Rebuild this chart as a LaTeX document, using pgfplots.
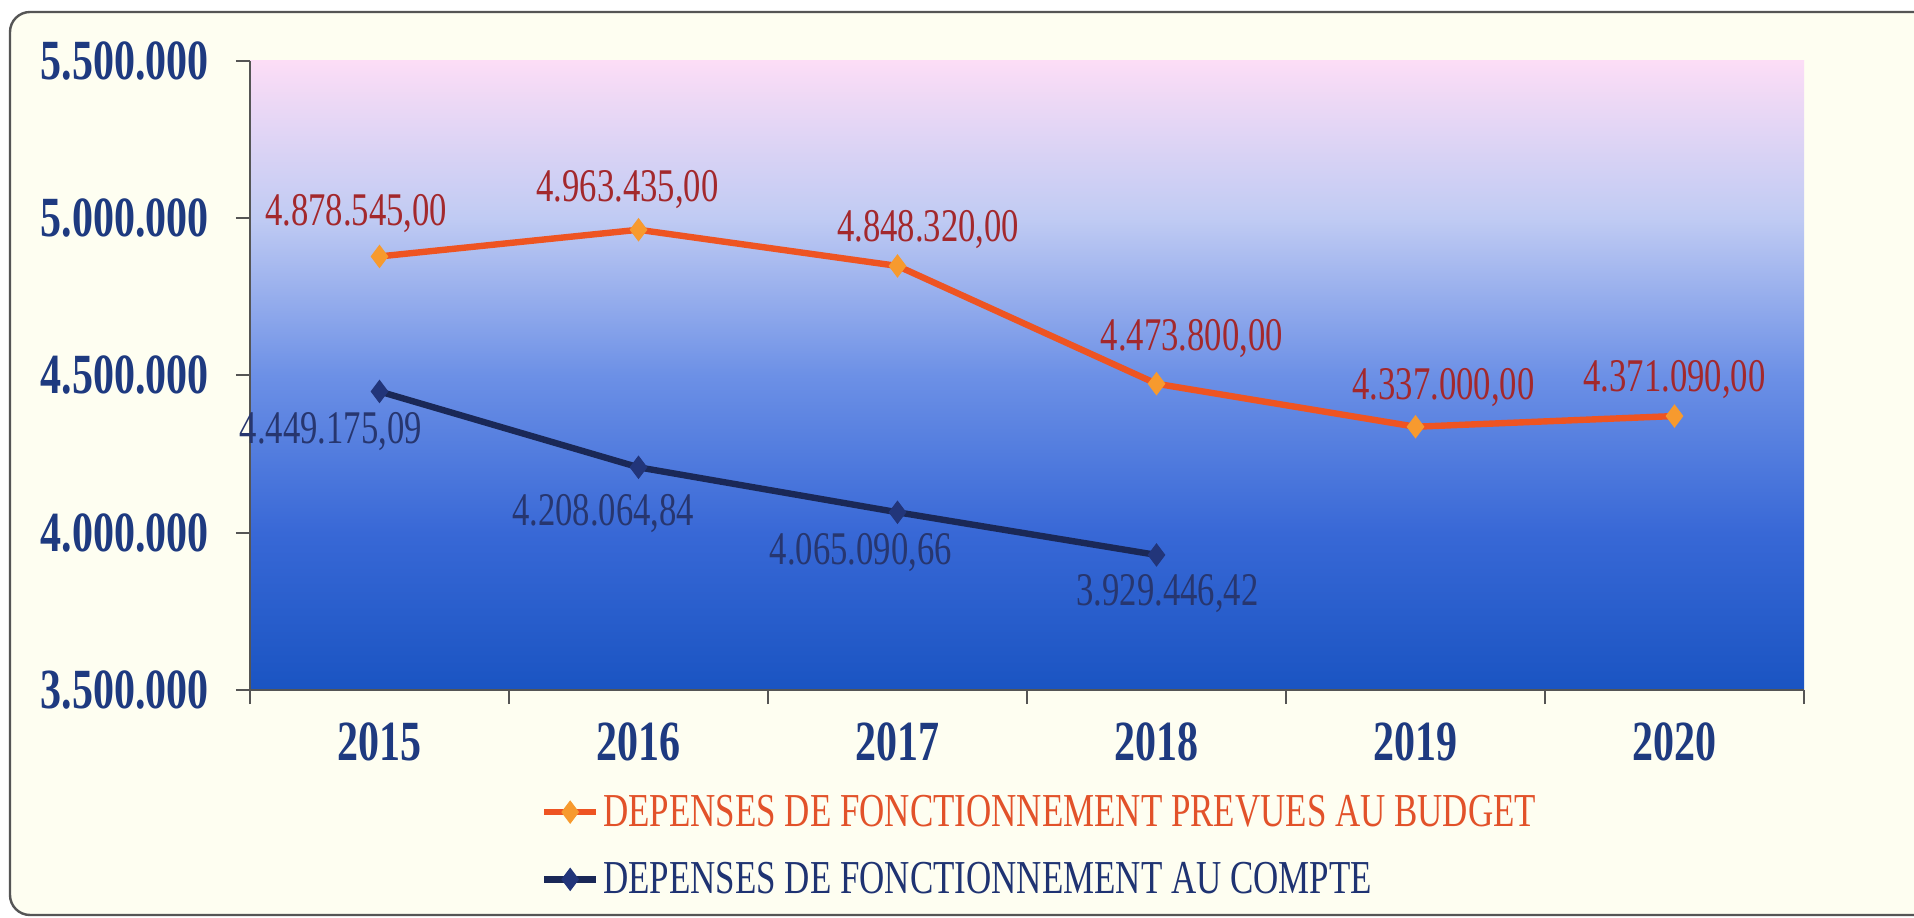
\documentclass[border=0pt]{standalone}
\usepackage{fontspec}
\setmainfont{Liberation Serif}[FakeStretch=0.74]
\usepackage{pgfplots}
\pgfplotsset{compat=1.18}
\usepackage{pgfplotstable}

\definecolor{cream}{HTML}{FEFEF1}
\definecolor{framegray}{HTML}{555555}
\definecolor{tickblue}{HTML}{1E3A80}
\definecolor{budgetlab}{HTML}{A3282C}
\definecolor{budgetline}{HTML}{EE5422}
\definecolor{budgetmark}{HTML}{F79A2E}
\definecolor{compteline}{HTML}{1A2857}
\definecolor{comptemark}{HTML}{22357A}
\definecolor{comptelab}{HTML}{27366F}
\definecolor{legone}{HTML}{E2522A}
\definecolor{legtwo}{HTML}{1F3372}
\definecolor{cA}{HTML}{1A54C2}
\definecolor{cB}{HTML}{3868D6}
\definecolor{cC}{HTML}{6C90E6}
\definecolor{cD}{HTML}{C0CBF3}
\definecolor{cE}{HTML}{FCDDF6}
\pgfdeclareverticalshading{plotbg}{100bp}{color(0bp)=(cA); color(25bp)=(cA); color(37.5bp)=(cB); color(50bp)=(cC); color(62.5bp)=(cD); color(75bp)=(cE); color(100bp)=(cE)}

\pgfplotstableread{
x y label dx dy
0 4878545 4.878.545,00 -11.6 21.4
1 4963435 4.963.435,00 -5.5 20.0
2 4848320 4.848.320,00 15.3 18.3
3 4473800 4.473.800,00 17.7 22.6
4 4337000 4.337.000,00 14.0 19.5
5 4371090 4.371.090,00 0.0 18.3
}\budget

\pgfplotstableread{
x y label dx dy
0 4449175.09 4.449.175,09 -24.4 -20.0
1 4208064.84 4.208.064,84 -17.7 -23.2
2 4065090.66 4.065.090,66 -18.3 -20.0
3 3929446.42 3.929.446,42 5.5 -19.5
}\compte

\begin{document}
\begin{tikzpicture}
\path[use as bounding box] (0,0) rectangle (957bp,459bp);
\fill[white] (0,0) rectangle (957bp,459bp);
\filldraw[fill=cream, draw=framegray, line width=1.2bp, rounded corners=10bp] (5bp,1.5bp) rectangle (975bp,453bp);
\begin{axis}[
  at={(125bp,114bp)}, anchor=south west,
  scale only axis, width=777bp, height=314.5bp,
  xmin=-0.5, xmax=5.5, ymin=3500000, ymax=5500000,
  axis lines*=left,
  axis line style={-, draw=framegray, line width=1bp},
  axis background/.style={shading=plotbg},
  scaled y ticks=false,
  ytick={3500000,4000000,4500000,5000000,5500000},
  yticklabels={3.500.000,4.000.000,4.500.000,5.000.000,5.500.000},
  yticklabel style={anchor=east, inner sep=0pt, xshift=-13.5bp, text=tickblue, font=\fontsize{28.5}{32}\selectfont\bfseries},
  ytick style={draw=framegray, line width=1bp},
  major tick length=7bp, tick align=outside,
  xtick={0,1,2,3,4,5},
  xticklabels={2015,2016,2017,2018,2019,2020},
  xtick style={draw=none},
  xticklabel style={anchor=center, inner sep=0pt, yshift=-19bp, text=tickblue, font=\fontsize{28.5}{32}\selectfont\bfseries},
  extra x ticks={-0.5,0.5,1.5,2.5,3.5,4.5,5.5},
  extra x tick labels={},
  extra x tick style={xtick style={draw=framegray, line width=1bp}},
  clip=false,
  legend style={draw=none, fill=none, at={(0.187,-0.16)}, anchor=north west,
    font=\fontsize{23.7}{26}\selectfont, row sep=12.5bp, inner sep=0pt},
  legend cell align=left,
  legend image code/.code={\draw[mark repeat=2,mark phase=2,#1] plot coordinates {(0bp,0bp)(13bp,0bp)(26bp,0bp)};},
  nodes near coords,
  point meta=explicit symbolic,
  visualization depends on={\thisrow{dx} \as \dx},
  visualization depends on={\thisrow{dy} \as \dy},
]
\addplot[budgetline, line width=3.2bp, mark=diamond*, mark size=5.5bp,
  mark options={fill=budgetmark, draw=budgetmark, line width=0.5bp},
  nodes near coords style={anchor=center, xshift=\dx bp, yshift=\dy bp, text=budgetlab, font=\fontsize{23.5}{26}\selectfont}]
  table[x=x, y=y, meta=label] {\budget};
\addlegendentry{\textcolor{legone}{DEPENSES DE FONCTIONNEMENT PREVUES AU BUDGET}}
\addplot[compteline, line width=3.2bp, mark=diamond*, mark size=5.5bp,
  mark options={fill=comptemark, draw=comptemark, line width=0.5bp},
  nodes near coords style={anchor=center, xshift=\dx bp, yshift=\dy bp, text=comptelab, font=\fontsize{23.5}{26}\selectfont}]
  table[x=x, y=y, meta=label] {\compte};
\addlegendentry{\textcolor{legtwo}{DEPENSES DE FONCTIONNEMENT AU COMPTE}}
\end{axis}
\end{tikzpicture}
\end{document}
